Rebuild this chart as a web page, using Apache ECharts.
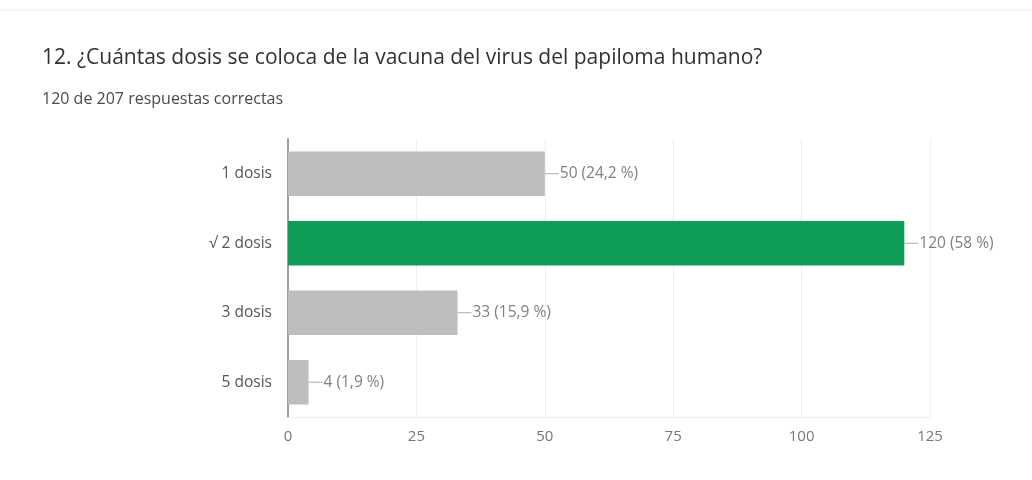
<!DOCTYPE html>
<html>
<head>
<meta charset="utf-8">
<script src="https://cdn.jsdelivr.net/npm/echarts@6/dist/echarts.min.js"></script>
<style>
html,body{margin:0;padding:0;background:#fff;}
#c{width:1032px;height:480px;}
</style>
</head>
<body>
<div id="c"></div>
<script>
const titleText = '12. ¿Cuántas dosis se coloca de la vacuna del virus del papiloma humano?';
const subtitleText = '120 de 207 respuestas correctas';
const categories = ['1 dosis', '\u221A 2 dosis', '3 dosis', '5 dosis'];
const values = [50, 120, 33, 4];
const percents = ['24,2', '58', '15,9', '1,9'];
const correct = [false, true, false, false];
const xTicks = [0, 25, 50, 75, 100, 125];

const chart = echarts.init(document.getElementById('c'));
const FONT = '"Open Sans", Roboto, sans-serif';

chart.setOption({
  backgroundColor: '#fff',
  animation: false,
  title: [
    { text: titleText, left: 37, top: 43,
      textStyle: { fontFamily: FONT, fontSize: 21, fontWeight: 'normal', color: '#303134' } },
    { text: subtitleText, left: 37, top: 86,
      textStyle: { fontFamily: FONT, fontSize: 16, fontWeight: 'normal', color: '#4a4a4a' } }
  ],
  graphic: [
    { type: 'line', shape: { x1: 0, y1: 10, x2: 1032, y2: 10 },
      style: { stroke: '#ececec', lineWidth: 1 } }
  ],
  grid: { left: 288, right: 102, top: 139, bottom: 63, containLabel: false },
  xAxis: {
    type: 'value', min: xTicks[0], max: xTicks[xTicks.length - 1], interval: 25,
    axisLine: { show: true, lineStyle: { color: '#eeeeee' } },
    axisTick: { show: false },
    axisLabel: { color: '#777', fontFamily: FONT, fontSize: 15, margin: 12 },
    splitLine: { show: true, lineStyle: { color: '#f0f0f0', width: 1 } }
  },
  yAxis: {
    type: 'category', data: categories, inverse: true,
    axisLine: { show: true, lineStyle: { color: '#9e9e9e', width: 2 } },
    axisTick: { show: false },
    axisLabel: { color: '#555', fontFamily: FONT, fontSize: 15.5, margin: 16 }
  },
  series: [{
    type: 'bar',
    data: values.map((v, i) => ({
      value: v,
      itemStyle: { color: correct[i] ? '#0f9d58' : '#bdbdbd' }
    })),
    barCategoryGap: '36%',
    label: {
      show: true, position: 'right', distance: 0,
      formatter: p => '{l|}{t|' + p.value + ' (' + percents[p.dataIndex] + ' %)}',
      rich: {
        l: { width: 14, height: 1, backgroundColor: '#aaaaaa' },
        t: { color: '#808080', fontFamily: FONT, fontSize: 15.5, padding: [0, 0, 0, 1] }
      }
    }
  }]
});
</script>
</body>
</html>
